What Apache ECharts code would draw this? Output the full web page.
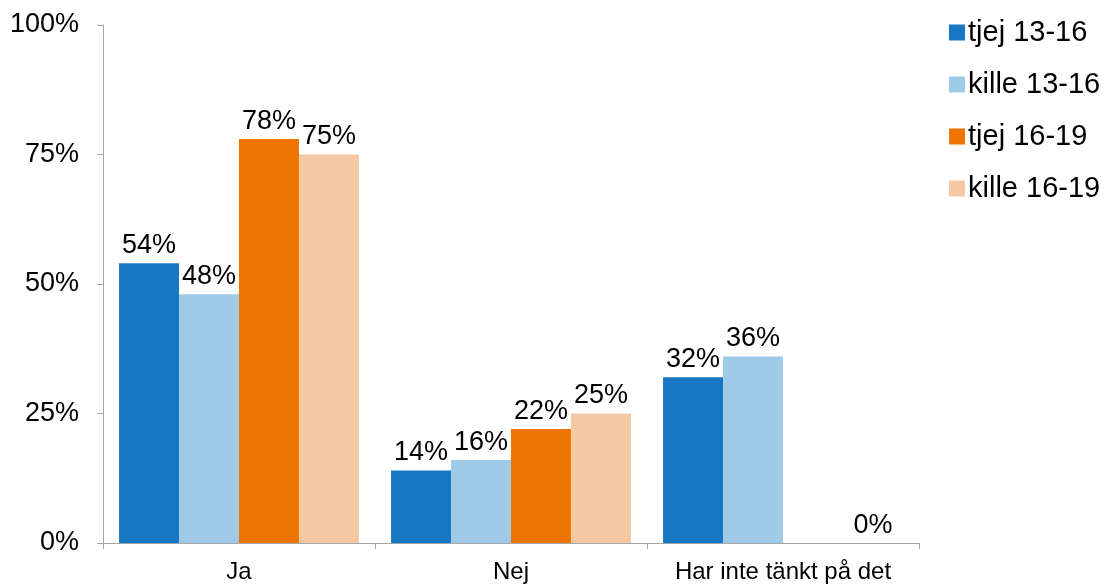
<!DOCTYPE html>
<html>
<head>
<meta charset="utf-8">
<script src="https://cdn.jsdelivr.net/npm/echarts@6/dist/echarts.min.js"></script>
<style>
  html, body { margin: 0; padding: 0; background: #fff; }
  #chart { width: 1111px; height: 586px; }
</style>
</head>
<body>
<div id="chart"></div>
<script>
  // data
  var categories = ['Ja', 'Nej', 'Har inte tänkt på det']
  var seriesNames = ['tjej 13-16', 'kille 13-16', 'tjej 16-19', 'kille 16-19']
  var tjej1316 = [54, 14, 32]
  var kille1316 = [48, 16, 36]
  var tjej1619 = [78, 22, null]
  var kille1619 = [75, 25, 0]
  var yTicks = [0, 25, 50, 75, 100]

  var colors = ['#1777c2', '#9fcae8', '#ee7600', '#f7c8a4']
  var font = 'Liberation Sans, Arial, sans-serif'

  function makeSeries(name, data, color) {
    return {
      name: name,
      type: 'bar',
      data: data,
      barGap: '0%',
      barCategoryGap: '11.8%',
      itemStyle: { color: color },
      label: {
        show: true,
        position: 'top',
        distance: 4,
        color: '#000',
        fontFamily: font,
        fontSize: 27,
        formatter: function (p) {
          return p.value == null ? '' : p.value + '%'
        }
      },
      animation: false
    }
  }

  var chart = echarts.init(document.getElementById('chart'))
  chart.setOption({
    backgroundColor: '#fff',
    grid: {
      left: 103,
      right: 192,
      top: 25,
      bottom: 43,
      containLabel: false
    },
    legend: {
      orient: 'vertical',
      left: 944,
      top: 13,
      itemWidth: 16,
      itemHeight: 16,
      itemGap: 23,
      icon: 'rect',
      data: seriesNames,
      textStyle: { fontFamily: font, fontSize: 29, color: '#000', padding: [0, 0, 0, -2] }
    },
    xAxis: {
      type: 'category',
      data: categories,
      axisLine: { lineStyle: { color: '#a6a6a6', width: 1 } },
      axisTick: { show: true, interval: 0, length: 6, alignWithLabel: false, lineStyle: { color: '#a6a6a6' } },
      axisLabel: { interval: 0, hideOverlap: false, color: '#000', fontFamily: font, fontSize: 24, margin: 17 }
    },
    yAxis: {
      type: 'value',
      min: yTicks[0],
      max: yTicks[yTicks.length - 1],
      interval: 25,
      splitLine: { show: false },
      axisLine: { show: true, lineStyle: { color: '#a6a6a6', width: 1 } },
      axisTick: { show: true, length: 6, lineStyle: { color: '#a6a6a6' } },
      axisLabel: {
        color: '#000',
        fontFamily: font,
        fontSize: 27,
        margin: 24,
        formatter: '{value}%'
      }
    },
    series: [
      makeSeries(seriesNames[0], tjej1316, colors[0]),
      makeSeries(seriesNames[1], kille1316, colors[1]),
      makeSeries(seriesNames[2], tjej1619, colors[2]),
      makeSeries(seriesNames[3], kille1619, colors[3])
    ]
  })
</script>
</body>
</html>
